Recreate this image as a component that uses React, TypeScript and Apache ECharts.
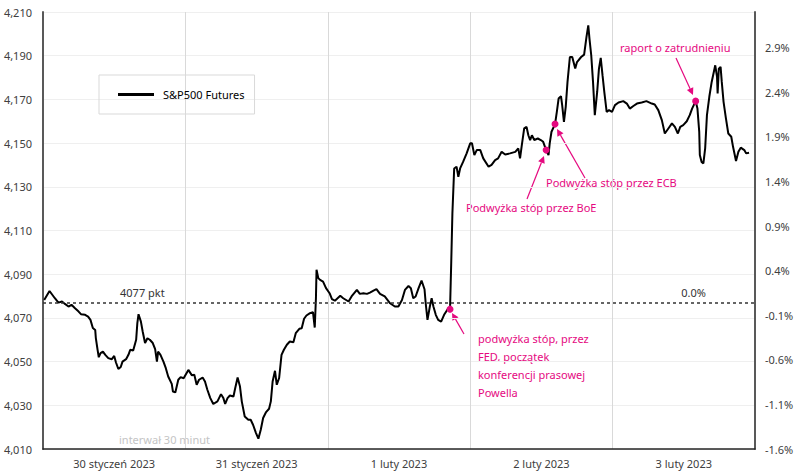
import React, { useEffect, useRef } from "react";
import * as echarts from "echarts";

const FONT = '"Noto Sans", "Segoe UI", sans-serif';
const PINK = "#E5097F";

const dayLabels = ["30 styczeń 2023", "31 styczeń 2023", "1 luty 2023", "2 luty 2023", "3 luty 2023"];
const seriesName = "S&P500 Futures";
const baseLevel = 4077;

// hours since start of 30 Jan session (24h per day column)
const hours = [
  0.2, 1.1, 2.0, 2.6, 3.2, 3.7, 4.3, 4.8, 5.4, 6.0, 6.4, 7.1, 7.6, 8.0, 8.4, 8.8, 8.9, 9.2, 9.4, 9.7,
  10.1, 10.5, 11.0, 11.6, 12.0, 12.3, 12.7, 13.1, 13.4, 14.0, 14.4, 14.7, 15.2, 15.7, 15.9, 16.1, 16.5, 16.8, 17.2, 17.6,
  18.0, 18.5, 18.9, 19.2, 19.4, 19.8, 20.3, 20.7, 21.1, 21.7, 21.9, 22.3, 22.8, 23.2, 23.7,
  24.5, 25.1, 25.5, 25.9, 26.3, 26.9, 27.3, 27.7, 28.2, 28.7, 29.4, 30.0, 30.4, 30.7, 31.1, 31.5, 32.1, 32.4, 32.8, 33.2,
  33.5, 34.0, 34.6, 35.0, 35.4, 35.9, 36.3, 36.7, 37.1, 37.6, 38.1, 38.4, 38.7, 39.1, 39.4, 39.8, 40.2, 40.6, 41.1, 41.6,
  42.2, 42.6, 43.2, 43.6, 44.0, 44.4, 45.0, 45.5, 45.8, 46.0, 46.1, 46.4, 46.7, 47.2, 47.7,
  48.3, 48.7, 49.2, 50.1, 50.6, 51.5, 52.0, 52.9, 53.4, 54.0, 54.6, 55.1, 55.7, 56.2, 56.8, 57.6, 58.5, 59.3, 59.9, 60.5,
  61.0, 61.6, 62.0, 62.4, 62.8, 63.3, 63.8, 64.3, 64.5, 64.8, 65.2, 65.5, 65.8, 66.2, 66.6, 67.1, 67.6, 68.2, 68.6, 68.8,
  69.0, 69.3, 69.7, 70.0, 70.3, 70.8, 71.4, 72.0,
  72.3, 72.7, 73.1, 73.7, 74.2, 75.1, 75.6, 76.2, 76.7, 77.3, 77.9, 78.7, 79.6, 80.1, 80.4, 80.7, 81.1, 81.5, 81.8, 82.1,
  82.4, 82.8, 83.4, 83.9, 84.3, 84.8, 85.2, 85.4, 85.7, 86.3, 86.6, 86.9, 87.3, 87.5, 87.8, 88.1, 88.4, 88.8, 89.2, 89.7,
  90.0, 90.7, 91.2, 91.6, 91.9, 92.1, 92.4, 92.7, 93.0, 93.4, 93.7, 94.0, 94.3, 94.6, 95.0, 95.4, 95.9,
  96.4, 97.0, 97.8, 98.4, 98.9, 99.5, 100.1, 100.9, 101.7, 102.6, 103.1, 103.7, 104.3, 104.8, 105.4, 106.0, 106.5, 107.0, 107.4, 107.9,
  108.5, 109.0, 109.4, 110.0, 110.3, 110.6, 110.7, 111.0, 111.3, 111.6, 111.9, 112.3, 112.7, 113.3, 113.6, 113.7, 113.9, 114.2, 114.4, 114.7,
  115.1, 115.5, 116.0, 116.3, 116.8, 117.2, 117.6, 118.2, 118.5, 119.0,
];

const prices = [
  4078.2, 4082.3, 4079.0, 4077.0, 4077.5, 4076.4, 4075.2, 4076.0, 4074.4, 4072.9, 4071.7, 4071.4, 4070.6, 4069.1, 4065.4, 4064.5, 4060.9, 4055.4, 4052.0, 4053.9,
  4054.6, 4053.1, 4051.6, 4051.1, 4052.6, 4049.6, 4046.6, 4047.5, 4050.0, 4051.1, 4053.1, 4055.4, 4055.1, 4060.0, 4067.6, 4071.7, 4068.3, 4063.8, 4058.5, 4060.7,
  4060.0, 4058.5, 4055.7, 4050.0, 4054.6, 4053.1, 4050.0, 4047.0, 4043.2, 4039.8, 4036.3, 4035.9, 4041.7, 4042.9, 4042.4,
  4046.2, 4043.7, 4044.0, 4039.4, 4041.7, 4042.7, 4040.9, 4037.1, 4033.3, 4030.6, 4031.8, 4035.1, 4033.3, 4030.6, 4033.3, 4034.5, 4034.0, 4037.9, 4042.7, 4038.6,
  4031.8, 4024.9, 4023.4, 4023.4, 4021.1, 4017.3, 4014.7, 4018.8, 4024.2, 4026.9, 4028.4, 4031.8, 4040.9, 4045.8, 4039.4, 4042.5, 4053.1, 4055.4, 4057.7, 4059.2,
  4058.9, 4063.0, 4065.0, 4065.3, 4069.6, 4071.1, 4072.2, 4072.6, 4065.6, 4079.0, 4092.0, 4088.2, 4087.4, 4086.6, 4083.6,
  4081.3, 4078.6, 4077.9, 4080.1, 4079.0, 4077.5, 4079.8, 4082.8, 4081.0, 4081.3, 4081.0, 4081.6, 4082.5, 4083.2, 4081.0, 4079.8, 4076.7, 4075.2, 4075.2, 4078.2,
  4082.8, 4084.6, 4083.6, 4079.0, 4079.8, 4083.6, 4087.1, 4083.1, 4076.7, 4069.1, 4075.2, 4079.0, 4075.2, 4071.4, 4069.1, 4068.3, 4071.4, 4074.0, 4074.0, 4095.0,
  4117.9, 4138.4, 4139.2, 4134.6, 4138.4, 4141.4, 4145.3, 4149.9,
  4149.9, 4144.5, 4146.8, 4146.8, 4143.0, 4139.2, 4140.0, 4142.2, 4143.0, 4146.0, 4144.8, 4145.3, 4146.0, 4147.6, 4143.0, 4149.1, 4156.7, 4157.4, 4153.6, 4151.4,
  4153.6, 4151.4, 4152.1, 4151.4, 4150.6, 4146.8, 4144.5, 4149.9, 4155.2, 4158.7, 4164.3, 4170.4, 4171.5, 4167.4, 4159.7, 4166.6, 4178.0, 4189.4, 4189.4, 4184.1,
  4187.1, 4189.4, 4190.5, 4198.6, 4203.9, 4197.8, 4190.2, 4178.0, 4162.8, 4173.4, 4184.1, 4189.0, 4181.1, 4173.4, 4164.3, 4165.1, 4164.3,
  4167.4, 4168.6, 4169.2, 4168.1, 4165.8, 4167.0, 4168.1, 4168.6, 4169.2, 4168.1, 4167.7, 4165.1, 4160.5, 4154.4, 4156.7, 4159.0, 4157.4, 4154.4, 4157.4, 4158.2,
  4160.0, 4162.8, 4165.8, 4169.2, 4165.8, 4155.2, 4144.5, 4141.4, 4140.7, 4147.6, 4162.8, 4171.2, 4178.0, 4185.6, 4180.3, 4172.7, 4184.1, 4184.9, 4178.0, 4168.9,
  4161.3, 4154.4, 4152.9, 4148.3, 4141.8, 4146.0, 4147.9, 4146.8, 4145.3, 4145.6,
];

// annotated events: [hour, price]
const eventHours = [68.6, 84.8, 86.3, 110.0];
const eventPrices = [4074.0, 4146.8, 4158.7, 4169.2];

function arrow(x1: number, y1: number, x2: number, y2: number) {
  const dx = x2 - x1;
  const dy = y2 - y1;
  const len = Math.sqrt(dx * dx + dy * dy);
  const ux = dx / len;
  const uy = dy / len;
  const hl = 7;
  const hw = 3.5;
  const bx = x2 - ux * hl;
  const by = y2 - uy * hl;
  const px = -uy;
  const py = ux;
  return [
    {
      type: "line",
      shape: { x1, y1, x2: bx, y2: by },
      style: { stroke: PINK, lineWidth: 1.2 },
      silent: true,
    },
    {
      type: "polygon",
      shape: {
        points: [
          [x2, y2],
          [bx + px * hw, by + py * hw],
          [bx - px * hw, by - py * hw],
        ],
      },
      style: { fill: PINK },
      silent: true,
    },
  ];
}

function txt(x: number, y: number, text: string, fill: string, align = "left", size = 11) {
  return {
    type: "text",
    x,
    y,
    silent: true,
    style: {
      text,
      fill,
      font: `${size}px ${FONT}`,
      textAlign: align,
      textVerticalAlign: "middle",
    },
  };
}

export default function App() {
  const ref = useRef<HTMLDivElement>(null);
  useEffect(() => {
    if (!ref.current) return;
    const chart = echarts.init(ref.current, null, { renderer: "svg" });
    const data = hours.map((h, i) => [h, prices[i]]);
    const events = eventHours.map((h, i) => ({ coord: [h, eventPrices[i]] }));
    const axisText = { color: "#404040", fontSize: 11, fontFamily: FONT };
    const option: any = {
      animation: false,
      backgroundColor: "#ffffff",
      textStyle: { fontFamily: FONT },
      grid: { left: 43, right: 45, top: 12, bottom: 27, containLabel: false },
      legend: {
        left: 99,
        top: 75,
        padding: [14, 10, 14, 19],
        borderColor: "#d9d9d9",
        borderWidth: 1,
        itemWidth: 36,
        itemHeight: 3,
        icon: "rect",
        selectedMode: false,
        textStyle: { color: "#000", fontSize: 11, fontFamily: FONT, padding: [0, 0, 0, 4] },
        data: [seriesName],
      },
      xAxis: [
        {
          type: "value",
          min: 0,
          max: 120,
          interval: 24,
          axisLine: { show: true, onZero: false, lineStyle: { color: "#262626", width: 1.5 } },
          axisTick: { show: false },
          axisLabel: { show: false },
          splitLine: { show: true, lineStyle: { color: "#d9d9d9", width: 1 } },
        },
        {
          type: "category",
          data: dayLabels,
          position: "bottom",
          boundaryGap: true,
          axisLine: { show: false },
          axisTick: { show: false },
          splitLine: { show: false },
          axisLabel: { ...axisText, margin: 9, interval: 0 },
        },
      ],
      yAxis: [
        {
          type: "value",
          min: 4010,
          max: 4210,
          interval: 20,
          position: "left",
          axisLine: { show: true, lineStyle: { color: "#595959", width: 2 } },
          axisTick: { show: false },
          axisLabel: {
            ...axisText,
            margin: 11,
            formatter: (v: number) => v.toLocaleString("en-US"),
          },
          splitLine: { show: true, lineStyle: { color: "#efefef", width: 1 } },
        },
        {
          type: "value",
          min: -1.6,
          max: 3.3,
          interval: 0.5,
          position: "right",
          axisLine: { show: true, lineStyle: { color: "#595959", width: 2 } },
          axisTick: { show: false },
          axisLabel: {
            ...axisText,
            margin: 10,
            showMaxLabel: false,
            formatter: (v: number) => v.toFixed(1) + "%",
          },
          splitLine: { show: false },
        },
      ],
      series: [
        {
          name: seriesName,
          type: "line",
          xAxisIndex: 0,
          yAxisIndex: 0,
          data,
          showSymbol: false,
          symbol: "none",
          lineStyle: { color: "#000", width: 2 },
          itemStyle: { color: "#000" },
          z: 3,
          markLine: {
            silent: true,
            symbol: ["none", "none"],
            label: { show: false },
            lineStyle: { color: "#333", type: [3, 3], width: 1.5 },
            data: [{ yAxis: baseLevel }],
          },
          markPoint: {
            silent: true,
            symbol: "circle",
            symbolSize: 7,
            itemStyle: { color: PINK },
            label: { show: false },
            data: events,
          },
        },
      ],
      graphic: [
        txt(120, 292, `${baseLevel} pkt`, "#333"),
        txt(706, 292, "0.0%", "#333", "right"),
        txt(119, 439, "interwał 30 minut", "#c4c4c4"),
        txt(620, 47, "raport o zatrudnieniu", PINK),
        txt(546, 182, "Podwyżka stóp przez ECB", PINK),
        txt(466, 207, "Podwyżka stóp przez BoE", PINK),
        txt(478, 338, "podwyżka stóp, przez", PINK),
        txt(478, 356, "FED, początek", PINK),
        txt(478, 374, "konferencji prasowej", PINK),
        txt(478, 392, "Powella", PINK),
        ...arrow(464, 334, 452, 313),
        ...arrow(527, 199, 544, 156),
        ...arrow(585, 178, 557, 129),
        ...arrow(676, 58, 693, 95),
      ],
    };
    chart.setOption(option);
    return () => chart.dispose();
  }, []);
  return (
    <div
      ref={ref}
      style={{ position: "fixed", left: 0, top: 0, width: 800, height: 476, background: "#fff" }}
    />
  );
}
